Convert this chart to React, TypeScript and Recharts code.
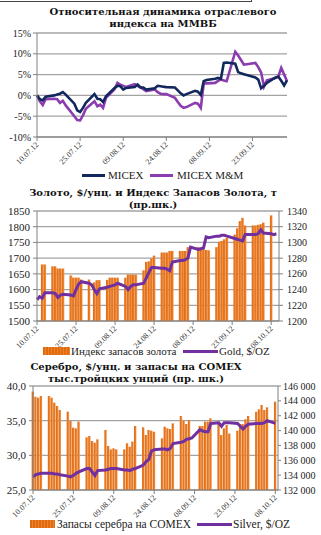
import React from 'react';
import { ComposedChart, Line, Bar, XAxis, YAxis, CartesianGrid } from 'recharts';

// trading days shown on the charts (2012)
const dates = [
  '10.07', '11.07', '12.07', '13.07',
  '16.07', '17.07', '18.07', '19.07', '20.07',
  '23.07', '24.07', '25.07', '26.07', '27.07',
  '30.07', '31.07', '01.08', '02.08', '03.08',
  '06.08', '07.08', '08.08', '09.08', '10.08',
  '13.08', '14.08', '15.08', '16.08', '17.08',
  '20.08', '21.08', '22.08', '23.08', '24.08',
  '27.08', '28.08', '29.08', '30.08', '31.08',
  '03.09', '04.09', '05.09', '06.09', '07.09',
  '10.09', '11.09', '12.09', '13.09', '14.09',
  '17.09', '18.09', '19.09', '20.09', '21.09',
  '24.09', '25.09', '26.09', '27.09', '28.09',
  '01.10', '02.10', '03.10', '04.10', '05.10',
  '08.10', '09.10', '10.10',
];

const dateTicks = ['10.07', '25.07', '09.08', '24.08', '08.09', '23.09', '08.10'];

// chart 1, %
const micex = [
  0, -0.9, -1.2, -0.3,
  0.0, 0.2, 0.4, 0.8, 0.2,
  -2.0, -3.6, -4.0, -3.0, -1.8,
  0.3, -0.8, -0.9, -1.6, -0.2,
  1.8, 2.3, 2.2, 1.4, 1.8,
  2.0, 2.6, 1.9, 1.9, 1.4,
  1.7, 2.3, 2.2, 2.1, 2.0,
  1.9, 1.2, 0.5, 0.0, 0.3,
  1.1, 0.9, 0.1, 3.4, 3.7,
  4.0, 4.2, 4.0, 7.8, 7.9,
  7.6, 5.6, 5.3, 5.1, 4.9,
  4.3, 3.8, 1.7, 2.3, 3.0,
  4.3, 4.5, 3.5, 2.4, 3.6,
];
const micexMM = [
  0, -1.4, -2.3, -0.9,
  -0.8, -0.9, -1.8, -1.3, -2.4,
  -5.0, -5.9, -6.0, -4.8, -3.2,
  -1.4, -2.6, -2.2, -3.0, -0.6,
  1.5, 3.0, 2.6, 2.3, 2.0,
  2.7, 2.3, 1.9, 1.5, 1.0,
  1.4, 0.8, 0.4, 0.3, 0.3,
  -0.6, -1.6, -2.5, -3.0, -2.8,
  -1.8, -2.0, -3.0, 2.8, 2.9,
  3.0, 3.5, 3.8, 3.6, 3.4,
  10.5, 9.6, 8.5, 7.4, 7.5,
  7.8, 6.8, 5.5, 2.1, 3.6,
  4.2, 4.6, 6.6, 5.0, 3.4,
];

// chart 2
const goldIndex = [
  null, null, 1680, 1680,
  1674, 1674, 1667, 1667, 1667,
  1645, 1638, 1638, 1638, 1632,
  1632, null, 1623, 1630, 1630,
  1631, 1638, 1638, 1638, 1638,
  1638, 1648, 1648, 1648, 1648,
  1661, 1688, 1690, 1699, 1708,
  1718, 1718, 1718, 1723, 1723,
  1723, 1723, 1723, 1735, null,
  1735, 1732, 1730, 1726, 1725,
  1735, 1752, 1755, 1760, 1765,
  1775, 1795, 1818, 1828, 1804,
  1804, 1804, 1806, 1808, 1813,
  1836, null, null,
];
const gold = [
  1227, 1231, 1229, 1236,
  1236, 1235, 1230, 1233, 1234,
  1233, 1232, 1240, 1247, 1250,
  1248, 1246, 1240, 1235, 1241,
  1243, 1244, 1245, 1246, 1248,
  1244, 1240, 1244, 1246, 1246,
  1248, 1255, 1262, 1268, 1268,
  1267, 1267, 1266, 1264, 1275,
  1277, 1277, 1278, 1280, 1294,
  1291, 1292, 1293, 1307, 1306,
  1308, 1308, 1309, 1309, 1308,
  1305, 1304, 1303, 1302, 1310,
  1310, 1310, 1311, 1316, 1312,
  1311, 1310, 1311,
];

// chart 3
const silver = [
  26.9, 27.2, 27.3, 27.4,
  27.4, 27.4, 27.3, 27.3, 27.2,
  27.0, 26.9, 27.1, 27.4, 27.6,
  28.1, 28.1, 27.6, 27.1, 27.8,
  27.9, 28.0, 28.1, 28.1, 28.1,
  27.9, 27.9, 27.8, 28.0, 28.1,
  28.6, 29.1, 29.4, 30.6, 30.8,
  30.9, 30.9, 30.8, 31.0, 31.7,
  31.9, 32.0, 32.3, 32.4, 32.5,
  33.7, 33.5, 33.4, 33.4, 34.6,
  34.7, 34.2, 34.7, 34.7, 34.7,
  34.6, 34.2, 33.8, 34.2, 34.5,
  34.6, 34.6, 34.6, 34.7, 35.0,
  34.6,
];
const comex = [
  145240, 144560, 144430, 144650,
  144650, 144430, 143760, 143310, 142770,
  142550, 141290, 140390, 140300, 141200,
  139090, 139270, 138600, 138370, 138820,
  140080, 137920, 137470, 137610, 137470,
  137470, 138280, 137830, 138510, 140620,
  140440, 139400, 140080, 139990, 139850,
  138960, 140520, 140300, 140210, 140970,
  141960, 141330, 140880, 141420, null,
  140620, 140620, 141200, 141200, 141650,
  141200, 139400, 140300, 140750, 139600,
  139990, 140880, 140880, 141510, 141960,
  142550, 142860, 143440, 142770, 143130,
  143890,
];

const START = Date.UTC(2012, 6, 10);
const toDay = (s: string) => {
  const [dd, mm] = s.split('.').map(Number);
  return Math.round((Date.UTC(2012, mm - 1, dd) - START) / 86400000);
};
const dayLabel = (d: number) => {
  const t = new Date(START + d * 86400000);
  const p = (n: number) => String(n).padStart(2, '0');
  return `${p(t.getUTCDate())}.${p(t.getUTCMonth() + 1)}.12`;
};

const data1 = micex.map((v, i) => ({ x: toDay(dates[i]), micex: v, mm: micexMM[i] }));
const data2 = gold.map((v, i) => ({ x: toDay(dates[i]), gold: v, index: goldIndex[i] }));
const data3 = silver.map((v, i) => ({ x: toDay(dates[i]), silver: v, comex: comex[i] }));
const xTicks = dateTicks.map(toDay);

const SERIF = '"Liberation Serif", "DejaVu Serif", serif';
const TITLE = '"DejaVu Serif", serif';
const AXIS = '#808080';
const GRID = '#a3a3a3';
const PURPLE = '#7030a0';

const DateTick = (props: any) => {
  const { x, y, payload } = props;
  return (
    <text
      x={x}
      y={y}
      dy={3}
      textAnchor="end"
      transform={`rotate(-45 ${x} ${y})`}
      fontSize={8}
      fontFamily={SERIF}
      fill="#333"
    >
      {dayLabel(payload.value)}
    </text>
  );
};

// right-axis label for the silver chart, kept on one line
const StockTick = (props: any) => {
  const { x, y, payload } = props;
  return (
    <text x={x} y={y} dy={3.5} textAnchor="start" fontSize={10} fontFamily={SERIF} fill="#222">
      {`${Math.round(payload.value / 1000)} 000`}
    </text>
  );
};

const tickStyle = (size: number) => ({ fontSize: size, fontFamily: SERIF, fill: '#222' });

function Title({ lines, top, center }: { lines: string[]; top: number; center: number }) {
  return (
    <div
      style={{
        position: 'absolute',
        top,
        left: center - 160,
        width: 320,
        textAlign: 'center',
        fontFamily: TITLE,
        fontWeight: 'bold',
        fontSize: 10,
        lineHeight: '11.5px',
        color: '#111',
        whiteSpace: 'nowrap',
      }}
    >
      {lines.map((l) => (
        <div key={l}>{l}</div>
      ))}
    </div>
  );
}

function LegendLine({ x, y, w, color }: { x: number; y: number; w: number; color: string }) {
  return <div style={{ position: 'absolute', left: x, top: y - 1.5, width: w, height: 3, background: color }} />;
}

function LegendBar({ x, y, w }: { x: number; y: number; w: number }) {
  return (
    <div
      style={{
        position: 'absolute',
        left: x,
        top: y - 4,
        width: w,
        height: 8,
        background: 'repeating-linear-gradient(90deg, #e06a0c 0px, #e06a0c 2px, #f29a5a 3px)',
      }}
    />
  );
}

function LegendText({ x, y, text, size = 11 }: { x: number; y: number; text: string; size?: number }) {
  return (
    <div
      style={{
        position: 'absolute',
        left: x,
        top: y - 7,
        height: 14,
        lineHeight: '14px',
        fontSize: size,
        fontFamily: SERIF,
        color: '#222',
        whiteSpace: 'nowrap',
      }}
    >
      {text}
    </div>
  );
}

const BarGradient = ({ id }: { id: string }) => (
  <defs>
    <linearGradient id={id} x1="0" y1="0" x2="1" y2="0">
      <stop offset="0%" stopColor="#e06a0c" />
      <stop offset="60%" stopColor="#e87a26" />
      <stop offset="100%" stopColor="#f4a466" />
    </linearGradient>
  </defs>
);

export default function App() {
  return (
    <div style={{ position: 'absolute', left: 0, top: 0, width: 321, height: 535, background: '#fff', overflow: 'hidden' }}>
      <div
        style={{
          position: 'absolute',
          left: 0,
          top: -3,
          width: 251,
          height: 4,
          borderBottom: '1px solid #444',
          borderRight: '1px solid #444',
        }}
      />

      {/* chart 1 */}
      <Title lines={['Относительная динамика отраслевого', 'индекса на ММВБ']} top={6} center={163} />
      <div style={{ position: 'absolute', left: 0, top: 0 }}>
        <ComposedChart width={321} height={168} data={data1} margin={{ top: 33, right: 34, left: 0, bottom: 3 }}>
          <CartesianGrid vertical={false} stroke={GRID} strokeWidth={1.3} />
          <XAxis
            dataKey="x"
            type="number"
            domain={[0, 87]}
            ticks={xTicks.filter((t) => t <= 87)}
            interval={0}
            height={28}
            tick={<DateTick />}
            stroke={AXIS}
            tickSize={4}
          />
          <YAxis
            domain={[-10, 15]}
            ticks={[-10, -5, 0, 5, 10, 15]}
            interval={0}
            width={37}
            tick={tickStyle(10)}
            tickFormatter={(v: number) => `${v}%`}
            stroke={AXIS}
            tickSize={4}
            tickMargin={2}
          />
          <Line dataKey="mm" stroke="#8a3cb0" strokeWidth={2.6} dot={false} isAnimationActive={false} />
          <Line dataKey="micex" stroke="#12275c" strokeWidth={2.6} dot={false} isAnimationActive={false} />
        </ComposedChart>
      </div>
      <LegendLine x={82} y={175} w={23} color="#12275c" />
      <LegendText x={108} y={175} text="MICEX" />
      <LegendLine x={150} y={175} w={23} color="#8a3cb0" />
      <LegendText x={177} y={175} text="MICEX M&M" />

      {/* chart 2 */}
      <Title lines={['Золото, $/унц. и Индекс Запасов Золота, т', '(пр.шк.)']} top={187} center={153} />
      <div style={{ position: 'absolute', left: 0, top: 180 }}>
        <ComposedChart width={321} height={186} data={data2} margin={{ top: 31, right: 0, left: 0, bottom: 20 }}>
          <BarGradient id="goldBar" />
          <CartesianGrid vertical={false} yAxisId="left" stroke={GRID} strokeWidth={1.3} />
          <XAxis
            dataKey="x"
            type="number"
            domain={[0, 93]}
            ticks={xTicks}
            interval={0}
            height={25}
            tick={<DateTick />}
            stroke={AXIS}
            tickSize={4}
          />
          <YAxis
            yAxisId="left"
            domain={[1500, 1850]}
            ticks={[1500, 1550, 1600, 1650, 1700, 1750, 1800, 1850]}
            interval={0}
            width={37}
            tick={tickStyle(11)}
            stroke={AXIS}
            tickSize={4}
            tickMargin={3}
          />
          <YAxis
            yAxisId="right"
            orientation="right"
            domain={[1200, 1340]}
            ticks={[1200, 1220, 1240, 1260, 1280, 1300, 1320, 1340]}
            interval={0}
            width={42}
            tick={tickStyle(10)}
            stroke={AXIS}
            tickSize={4}
            tickMargin={4}
          />
          <Bar yAxisId="left" dataKey="index" fill="url(#goldBar)" barSize={2.6} isAnimationActive={false} />
          <Line yAxisId="right" dataKey="gold" stroke={PURPLE} strokeWidth={3} dot={false} isAnimationActive={false} />
        </ComposedChart>
      </div>
      <LegendBar x={43} y={351} w={27} />
      <LegendText x={71} y={351} text="Индекс запасов золота" />
      <LegendLine x={183} y={351} w={35} color={PURPLE} />
      <LegendText x={219} y={351} text="Gold, $/OZ" />

      {/* chart 3 */}
      <Title lines={['Серебро, $/унц. и запасы на COMEX', 'тыс.тройцких унций (пр. шк.)']} top={361} center={136} />
      <div style={{ position: 'absolute', left: 0, top: 360 }}>
        <ComposedChart width={321} height={158} data={data3} margin={{ top: 26, right: 0, left: 0, bottom: 3 }}>
          <BarGradient id="silverBar" />
          <CartesianGrid vertical={false} yAxisId="left" stroke={GRID} strokeWidth={1.3} />
          <XAxis
            dataKey="x"
            type="number"
            domain={[0, 91]}
            ticks={xTicks}
            interval={0}
            height={25}
            tick={<DateTick />}
            stroke={AXIS}
            tickSize={4}
          />
          <YAxis
            yAxisId="left"
            domain={[25, 40]}
            ticks={[25, 30, 35, 40]}
            interval={0}
            width={33}
            tick={tickStyle(11)}
            tickFormatter={(v: number) => v.toFixed(1).replace('.', ',')}
            stroke={AXIS}
            tickSize={4}
            tickMargin={3}
          />
          <YAxis
            yAxisId="right"
            orientation="right"
            domain={[132000, 146000]}
            ticks={[132000, 134000, 136000, 138000, 140000, 142000, 144000, 146000]}
            interval={0}
            width={43}
            tick={<StockTick />}
            stroke={AXIS}
            tickSize={3}
            tickMargin={2}
          />
          <Bar yAxisId="right" dataKey="comex" fill="url(#silverBar)" barSize={2.7} isAnimationActive={false} />
          <Line yAxisId="left" dataKey="silver" stroke={PURPLE} strokeWidth={3} dot={false} isAnimationActive={false} />
        </ComposedChart>
      </div>
      <LegendBar x={30} y={524} w={25} />
      <LegendText x={57} y={524} text="Запасы серебра на COMEX" size={11.5} />
      <LegendLine x={197} y={524} w={35} color={PURPLE} />
      <LegendText x={233} y={524} text="Silver, $/OZ" size={11.5} />
    </div>
  );
}
